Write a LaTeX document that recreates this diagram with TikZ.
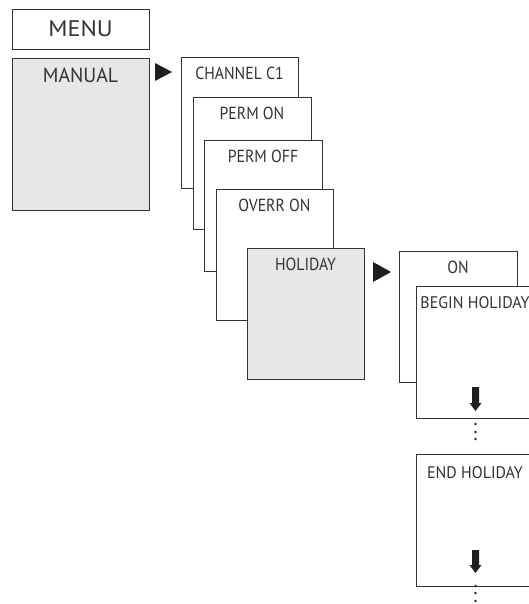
\documentclass[tikz,border=0pt]{standalone}
\usepackage{fontspec}
\setmainfont{PT Sans}[FakeStretch=0.9]
\newfontfamily\menufont{PT Sans}[FakeStretch=1.08]
\newfontfamily\manualfont{PT Sans}[FakeStretch=0.965]
\newfontfamily\holfont{PT Sans}[FakeStretch=0.95]
\begin{document}
\begin{tikzpicture}[x=1pt,y=-1pt,
  box/.style={draw=black!80,line width=0.9pt,fill=white},
  greybox/.style={box,fill=boxgrey},
  lbl/.style={anchor=base,inner sep=0pt,text=black!80,font=\fontsize{17.5}{20}\selectfont},
  arr/.style={fill=black!88},
  dot/.style={fill=black!85}]
\definecolor{boxgrey}{HTML}{E6E7E8}
\useasboundingbox (0,0) rectangle (529,604);
\clip (0,0) rectangle (529,604);
% MENU and MANUAL
\draw[box] (12,9) rectangle (149,49);
\coordinate (menu) at (80.5,9);
\node[lbl,font=\menufont\fontsize{22.5}{24}\selectfont] (tmenu) at ([yshift=-27.5pt]menu) {MENU};
\draw[greybox] (12,58) rectangle (149,210);
\coordinate (manual) at (80.5,58);
\node[lbl,font=\manualfont\fontsize{20.5}{24}\selectfont] (tmanual) at ([yshift=-25pt]manual) {MANUAL};
\fill[arr] (155,63) -- (155,81) -- (172,72) -- cycle;
% stacked boxes
\draw[box] (181,57) rectangle (298,188);
\node[lbl] (tch) at (239.5,79.5) {CHANNEL C1};
\draw[box] (193,97) rectangle (311,229);
\node[lbl] (tpon) at (252,120) {PERM ON};
\draw[box] (204,140) rectangle (322,271);
\node[lbl] (tpoff) at (263,162.5) {PERM OFF};
\draw[box] (216,189) rectangle (333,320);
\node[lbl] (tovr) at (274.5,211.5) {OVERR ON};
\draw[greybox] (247,248) rectangle (364,379);
\node[lbl] (thol) at (305.5,270.5) {HOLIDAY};
\fill[arr] (373,262) -- (373,282) -- (391,272) -- cycle;
% holiday submenu
\draw[box] (399,251) rectangle (517,382);
\node[lbl] (ton) at (458,273) {ON};
\draw[box] (416,286) rectangle (534,418);
\node[lbl,font=\holfont\fontsize{16.8}{20}\selectfont] (tbeg) at (475,308) {BEGIN HOLIDAY};
\fill[arr] (472,387) -- (479,387) -- (479,403) -- (481.5,403) -- (475.5,411) -- (469.5,403) -- (472,403) -- cycle;
\foreach \yy in {424,432,439} \fill[dot] (475.5,\yy) circle (1.3);
\draw[box] (416,454) rectangle (534,586);
\node[lbl,font=\holfont\fontsize{16.8}{20}\selectfont] (tend) at (475,478) {END HOLIDAY};
\fill[arr] (472,550) -- (479,550) -- (479,565) -- (481.5,565) -- (475.5,573) -- (469.5,565) -- (472,565) -- cycle;
\foreach \yy in {586,593,601} \fill[dot] (475.5,\yy) circle (1.3);
\end{tikzpicture}
\end{document}
